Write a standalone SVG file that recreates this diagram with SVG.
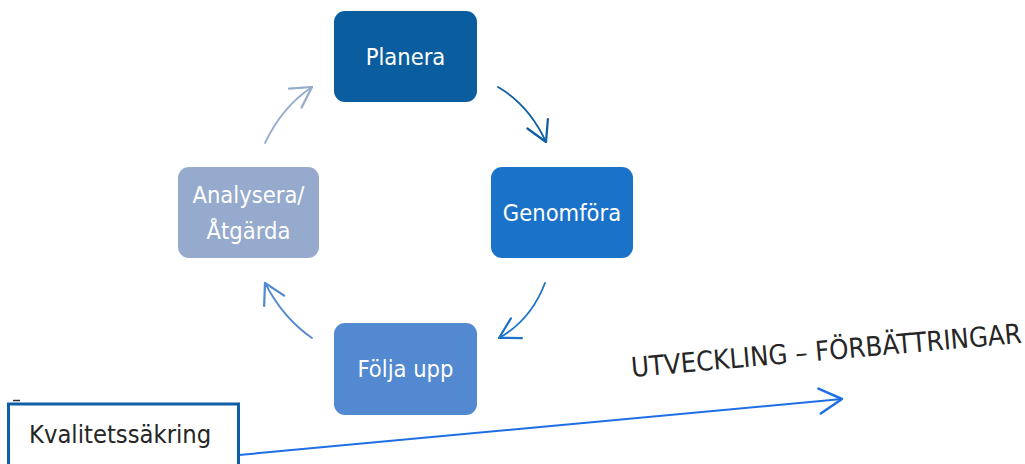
<svg xmlns="http://www.w3.org/2000/svg" width="1025" height="464" viewBox="0 0 1025 464">
<style>
.lbl{font-family:"DejaVu Sans Condensed","DejaVu Sans",sans-serif;font-size:23.5px;fill:#ffffff;text-anchor:middle}
.dark{font-family:"DejaVu Sans Condensed","DejaVu Sans",sans-serif;fill:#262626}
.arc{fill:none;stroke-width:1.8;stroke-linecap:round}
</style>
<defs>
<marker id="mA" markerUnits="userSpaceOnUse" markerWidth="30" markerHeight="30" refX="0" refY="0" viewBox="-20 -12 22 24" orient="auto" overflow="visible"><path d="M-16,-9 L0,0 L-16,9" fill="none" stroke="#0E5FA6" stroke-width="1.8" stroke-linecap="round" stroke-linejoin="round"/></marker>
<marker id="mB" markerUnits="userSpaceOnUse" markerWidth="30" markerHeight="30" refX="0" refY="0" viewBox="-20 -12 22 24" orient="auto" overflow="visible"><path d="M-16,-9 L0,0 L-16,9" fill="none" stroke="#1B72C9" stroke-width="1.8" stroke-linecap="round" stroke-linejoin="round"/></marker>
<marker id="mC" markerUnits="userSpaceOnUse" markerWidth="30" markerHeight="30" refX="0" refY="0" viewBox="-20 -12 22 24" orient="auto" overflow="visible"><path d="M-16,-9 L0,0 L-16,9" fill="none" stroke="#5289D0" stroke-width="1.8" stroke-linecap="round" stroke-linejoin="round"/></marker>
<marker id="mD" markerUnits="userSpaceOnUse" markerWidth="30" markerHeight="30" refX="0" refY="0" viewBox="-20 -12 22 24" orient="auto" overflow="visible"><path d="M-16,-9 L0,0 L-16,9" fill="none" stroke="#95AACC" stroke-width="1.8" stroke-linecap="round" stroke-linejoin="round"/></marker>
<marker id="mE" markerUnits="userSpaceOnUse" markerWidth="30" markerHeight="30" refX="0" refY="0" viewBox="-22 -12 24 24" orient="auto" overflow="visible"><path d="M-18,-10 L0,0 L-18,10" fill="none" stroke="#1E6FE6" stroke-width="2" stroke-linecap="round" stroke-linejoin="round"/></marker>
</defs>
<rect width="1025" height="464" fill="#ffffff"/>
<g id="connectors">
<path class="arc" d="M498,87 Q529,105 546,142" stroke="#0E5FA6" marker-end="url(#mA)"/>
<path class="arc" d="M545,283 Q531,320 499,338" stroke="#1B72C9" marker-end="url(#mB)"/>
<path class="arc" d="M312,338 Q283,318 265,283" stroke="#5289D0" marker-end="url(#mC)"/>
<path class="arc" d="M265,143 Q282,107 312,87" stroke="#95AACC" marker-end="url(#mD)"/>
<path d="M239,455 L842,399" fill="none" stroke="#1E6FE6" stroke-width="2" marker-end="url(#mE)"/>
</g>
<g id="planera">
<rect x="334" y="11" width="143" height="91" rx="11" fill="#0A5EA0"/>
<text class="lbl" x="405.5" y="65">Planera</text>
</g>
<g id="genomfora">
<rect x="491" y="167" width="142" height="91" rx="11" fill="#1B72C9"/>
<text class="lbl" x="562" y="221">Genomföra</text>
</g>
<g id="folja-upp">
<rect x="334" y="323" width="143" height="92" rx="11" fill="#5289D0"/>
<text class="lbl" x="405.5" y="377">Följa upp</text>
</g>
<g id="analysera">
<rect x="178" y="167" width="141" height="91" rx="11" fill="#95AACC"/>
<text class="lbl" x="248.5" y="203">Analysera/</text>
<text class="lbl" x="248.5" y="239">Åtgärda</text>
</g>
<g id="kvalitetssakring">
<path d="M13,400.5 L20,400.5" stroke="#333333" stroke-width="1.5"/>
<rect x="8.5" y="404" width="230" height="72" fill="#ffffff" stroke="#0E5FA8" stroke-width="3"/>
<text class="dark" x="29" y="443" font-size="25.3px">Kvalitetssäkring</text>
</g>
<g id="utveckling">
<text class="dark" x="632" y="377" font-size="27.3px" transform="rotate(-5 632 377)">UTVECKLING – FÖRBÄTTRINGAR</text>
</g>
</svg>
